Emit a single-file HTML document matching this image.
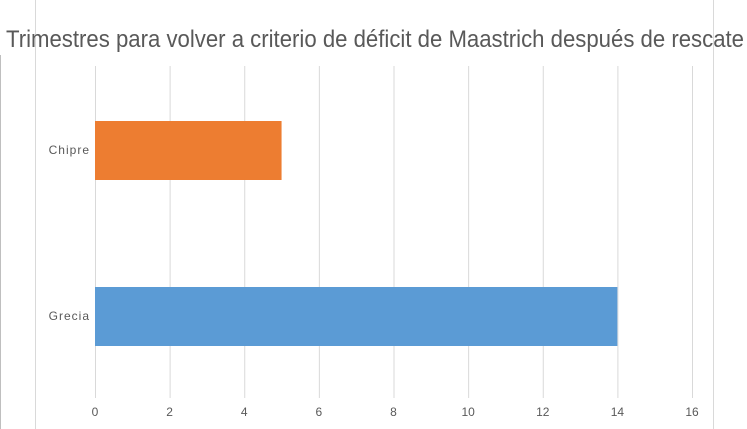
<!DOCTYPE html>
<html><head><meta charset="utf-8"><style>
html,body{margin:0;padding:0;background:#fff;width:747px;height:429px;overflow:hidden}
svg{display:block;font-family:"Liberation Sans",sans-serif}
</style></head><body>
<svg id="c" width="747" height="429">
<line x1="35.5" y1="0" x2="35.5" y2="429" stroke="#d9d9d9"/>
<line x1="713.5" y1="0" x2="713.5" y2="429" stroke="#d9d9d9"/>
<line x1="0.5" y1="55" x2="0.5" y2="429" stroke="#bfbfbf"/>
<text x="6" y="47" font-size="24" fill="#595959" textLength="738" lengthAdjust="spacingAndGlyphs">Trimestres para volver a criterio de déficit de Maastrich después de rescate</text>
<g id="grid"></g><g id="bars"></g><g id="labels"></g>
</svg>
<script>
const categories=["Chipre","Grecia"];
const values=[5,14];
const colors=["#ed7d31","#5b9bd5"];
const ticks=[0,2,4,6,8,10,12,14,16];
const x=v=>95+v*(692-95)/16;
const rowCenter=i=>150+i*166;
const ns="http://www.w3.org/2000/svg";
const grid=document.getElementById('grid'),bars=document.getElementById('bars'),labels=document.getElementById('labels');
ticks.forEach(t=>{
 const l=document.createElementNS(ns,'line');
 l.setAttribute('x1',x(t)+0.5);l.setAttribute('x2',x(t)+0.5);l.setAttribute('y1',66);l.setAttribute('y2',398);
 l.setAttribute('stroke','#d9d9d9');
 
 
 grid.appendChild(l);
 const tx=document.createElementNS(ns,'text');
 tx.setAttribute('x',x(t));tx.setAttribute('y',416);tx.setAttribute('text-anchor','middle');
 tx.setAttribute('font-size','12');tx.setAttribute('fill','#595959');tx.textContent=t;
 
 
 labels.appendChild(tx);
});
categories.forEach((c,i)=>{
 const r=document.createElementNS(ns,'rect');
 r.setAttribute('x',x(0));r.setAttribute('y',rowCenter(i)-29);
 r.setAttribute('width',x(values[i])-x(0));r.setAttribute('height',59);r.setAttribute('fill',colors[i]);
 
 
 bars.appendChild(r);
 const tx=document.createElementNS(ns,'text');
 tx.setAttribute('x',90);tx.setAttribute('y',rowCenter(i)+4);tx.setAttribute('text-anchor','end');
 tx.setAttribute('font-size','12');tx.setAttribute('fill','#595959');tx.setAttribute('letter-spacing','1');tx.textContent=c;
 
 
 labels.appendChild(tx);
});
</script>
</body></html>
